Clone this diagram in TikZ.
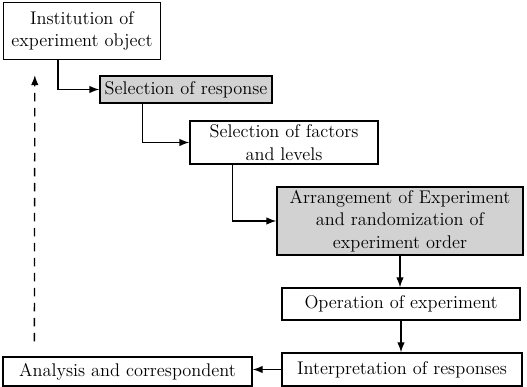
\documentclass[tikz,border=0pt]{standalone}
\usepackage{tikz}
\usetikzlibrary{shapes,arrows.meta,calc,positioning}

\begin{document}
\begin{tikzpicture}[x=0.6pt,y=-0.6pt,
  box/.style={draw,line width=0.8pt,align=center,inner sep=1pt,font=\fontsize{11}{13.4}\selectfont},
  shaded/.style={box,fill=gray!35},
  link/.style={-{Latex[length=6pt,width=4.5pt]},line width=0.8pt}]
\useasboundingbox (0,0) rectangle (527,387);

\node[box,minimum width=157*0.6pt,minimum height=57*0.6pt] at (82,31) (inst) {Institution of\\experiment object};
\node[shaded,minimum width=172*0.6pt,minimum height=27*0.6pt] at (186,89.5) (resp) {Selection of response};
\node[box,minimum width=188*0.6pt,minimum height=43*0.6pt] at (284,142.5) (fact) {Selection of factors\\and levels};
\node[shaded,minimum width=246*0.6pt,minimum height=68*0.6pt] at (400,221) (arr) {Arrangement of Experiment\\and randomization of\\experiment order};
\node[box,minimum width=238*0.6pt,minimum height=32*0.6pt] at (401,304) (oper) {Operation of experiment};
\node[box,minimum width=240*0.6pt,minimum height=33*0.6pt] at (402,369.5) (interp) {Interpretation of responses};
\node[box,minimum width=249*0.6pt,minimum height=29*0.6pt] at (127.5,371.5) (anal) {Analysis and correspondent};

\draw[link] ($(inst.south west)+(55,0)$) |- (resp.west);
\draw[link] ($(resp.south west)+(43,0)$) |- (fact.west);
\draw[link] ($(fact.south west)+(43,0)$) |- (arr.west);
\draw[link] (arr.south) -- (arr.south |- oper.north);
\draw[link] (oper.south) -- (oper.south |- interp.north);
\draw[link] (interp.west) -- (interp.west -| anal.east);
\draw[link,dash pattern=on 5pt off 4pt,shorten <=9pt,shorten >=9pt] ($(anal.north west)+(32,0)$) -- ($(inst.south west)+(32,0)$);
\end{tikzpicture}
\end{document}
